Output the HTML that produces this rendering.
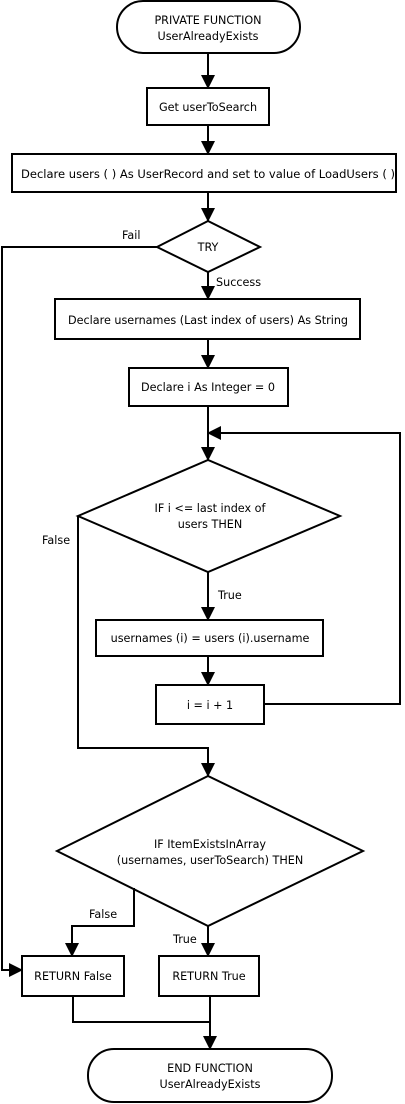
<!DOCTYPE html>
<html><head><meta charset="utf-8"><style>
html,body{margin:0;padding:0;background:#fff;}
svg{display:block;}
text{font-family:"DejaVu Sans","Liberation Sans",sans-serif;font-size:11.2px;fill:#000;}
</style></head><body>
<svg width="405" height="1104" viewBox="0 0 405 1104" xmlns="http://www.w3.org/2000/svg">
<defs><marker id="a" markerWidth="14" markerHeight="14" refX="13" refY="7" orient="auto" markerUnits="userSpaceOnUse"><path d="M0,0 L14,7 L0,14 Z" fill="#000"/></marker></defs>
<g fill="none" stroke="#000" stroke-width="2">
<rect x="117" y="1" width="183" height="52" rx="26"/>
<rect x="147" y="88" width="122" height="37"/>
<rect x="12" y="154" width="384" height="38"/>
<path d="M157,247 L208,221 L260,247 L208,272 Z"/>
<rect x="55" y="299" width="305" height="40"/>
<rect x="129" y="368" width="159" height="38"/>
<path d="M78,516 L208,460 L340,516 L208,572 Z"/>
<rect x="96" y="620" width="227" height="36"/>
<rect x="156" y="685" width="108" height="39"/>
<path d="M57,851 L208,776 L363,851 L208,926 Z"/>
<rect x="22" y="956" width="102" height="40"/>
<rect x="159" y="956" width="100" height="40"/>
<rect x="88" y="1049" width="244" height="53" rx="26"/>
<path d="M208,53 L208,88" marker-end="url(#a)"/>
<path d="M208,125 L208,154" marker-end="url(#a)"/>
<path d="M208,192 L208,221" marker-end="url(#a)"/>
<path d="M157,247 L2,247 L2,970 L22,970" marker-end="url(#a)"/>
<path d="M208,272 L208,299" marker-end="url(#a)"/>
<path d="M208,339 L208,368" marker-end="url(#a)"/>
<path d="M208,406 L208,460" marker-end="url(#a)"/>
<path d="M264,704 L400,704 L400,433 L208,433" marker-end="url(#a)"/>
<path d="M208,572 L208,620" marker-end="url(#a)"/>
<path d="M208,656 L208,685" marker-end="url(#a)"/>
<path d="M78,516 L78,748 L208,748 L208,776" marker-end="url(#a)"/>
<path d="M134,888 L134,926 L72,926 L72,956" marker-end="url(#a)"/>
<path d="M208,926 L208,956" marker-end="url(#a)"/>
<path d="M73,996 L73,1022 L210,1022"/>
<path d="M210,996 L210,1049" marker-end="url(#a)"/>
</g>
<g text-anchor="middle">
<text x="208" y="24">PRIVATE FUNCTION</text>
<text x="208" y="40">UserAlreadyExists</text>
<text x="208" y="111">Get userToSearch</text>
<text x="208" y="178" textLength="374" lengthAdjust="spacingAndGlyphs">Declare users ( ) As UserRecord and set to value of LoadUsers ( )</text>
<text x="208" y="251">TRY</text>
<text x="208" y="324">Declare usernames (Last index of users) As String</text>
<text x="208" y="391">Declare i As Integer = 0</text>
<text x="210" y="512">IF i &lt;= last index of</text>
<text x="210" y="528">users THEN</text>
<text x="210" y="642">usernames (i) = users (i).username</text>
<text x="210" y="709">i = i + 1</text>
<text x="210" y="848">IF ItemExistsInArray</text>
<text x="210" y="864">(usernames, userToSearch) THEN</text>
<text x="73" y="980">RETURN False</text>
<text x="209" y="980">RETURN True</text>
<text x="210" y="1072">END FUNCTION</text>
<text x="210" y="1088">UserAlreadyExists</text>
</g>
<text x="122" y="239">Fail</text>
<text x="216" y="286">Success</text>
<text x="42" y="544">False</text>
<text x="218" y="599">True</text>
<text x="89" y="918">False</text>
<text x="173" y="943">True</text>
</svg>
</body></html>
